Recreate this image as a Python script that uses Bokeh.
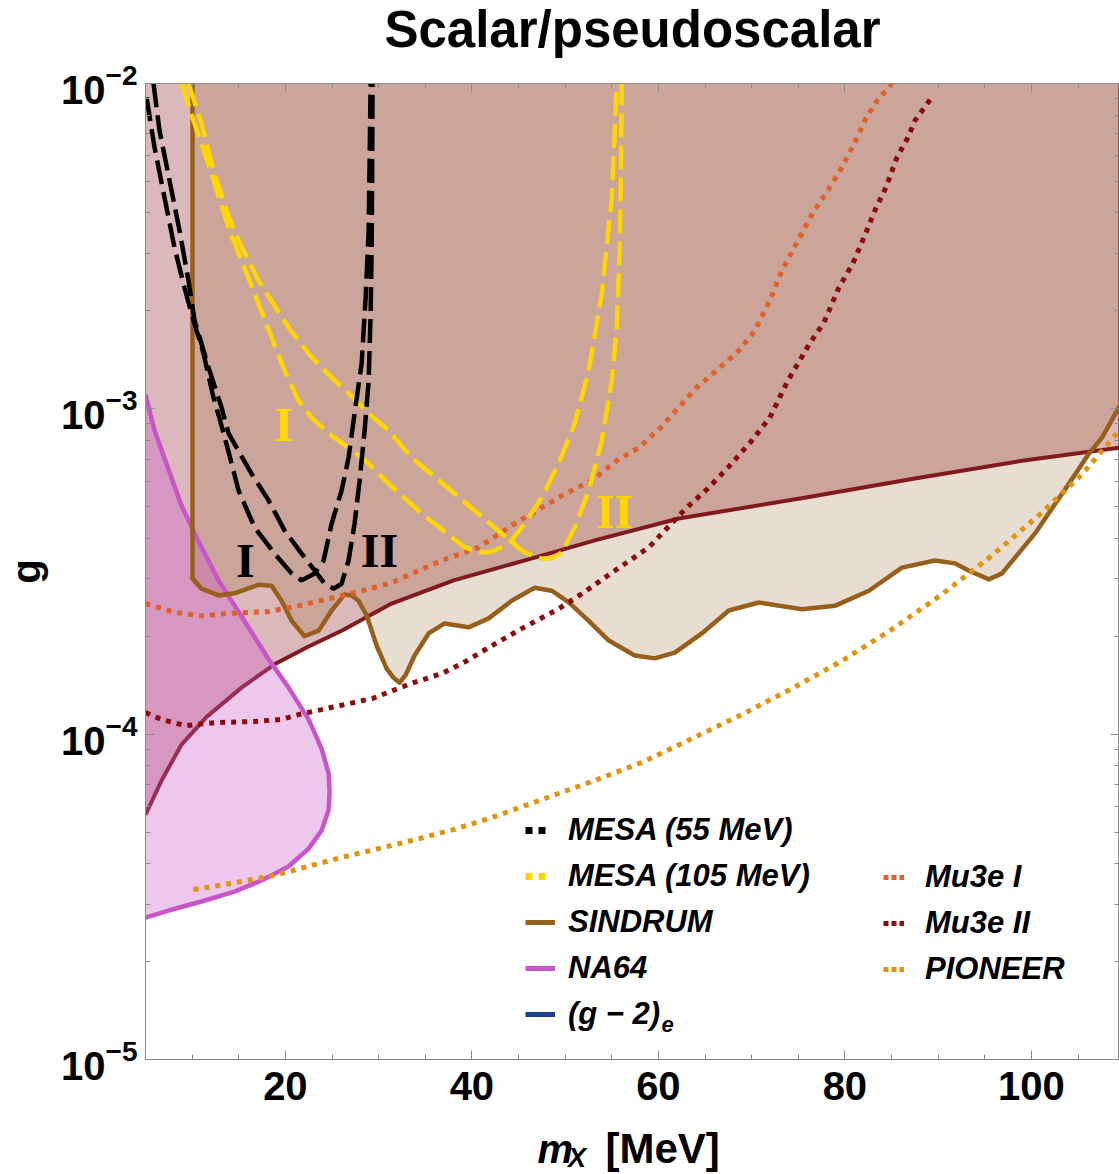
from bokeh.plotting import figure
from bokeh.layouts import column
from bokeh.models import (Range1d, LogAxis, LinearAxis, SingleIntervalTicker,
                          LogTicker, Label, Legend, LegendItem, CustomJSTickFormatter)
from bokeh.embed import file_html
from bokeh.resources import INLINE

NAN = float("nan")

# ---------------- data (m_X in MeV, coupling g) ----------------
X_MIN, X_MAX = 5.0, 109.45
G_MIN, G_MAX = 1e-5, 1e-2

g2_x = [5.0, 6.72, 8.86, 11.55, 15.30, 18.84, 22.49, 26.03, 31.39, 38.05, 46.74,
        53.18, 62.19, 75.82, 87.51, 99.21, 109.5]
g2_g = [5.66e-5, 7.20e-5, 9.29e-5, 1.13e-4, 1.39e-4, 1.64e-4, 1.86e-4, 2.08e-4,
        2.52e-4, 2.97e-4, 3.49e-4, 3.94e-4, 4.60e-4, 5.34e-4, 6.11e-4, 6.94e-4, 7.60e-4]

sind_x = [10.04, 10.04, 11.01, 12.83, 14.55, 17.12, 18.52, 19.59, 20.67, 22.06,
          23.56, 24.96, 26.35, 27.10, 27.85, 28.71, 29.79, 30.86, 31.60, 32.25, 32.90, 33.86,
          35.36, 37.08, 39.66, 41.80, 44.27, 46.74, 48.56, 50.39, 52.53, 54.68,
          57.47, 59.61, 61.76, 64.66, 67.55, 70.77, 75.39, 78.93, 82.58, 86.12,
          89.66, 91.80, 93.30, 95.45, 96.85, 100.39, 104.03, 106.18, 107.58, 109.61]
sind_g = [1e-2, 3.01e-4, 2.80e-4, 2.67e-4, 2.71e-4, 2.88e-4, 2.86e-4, 2.57e-4, 2.23e-4, 2.00e-4,
          2.08e-4, 2.40e-4, 2.69e-4, 2.67e-4, 2.57e-4, 2.32e-4, 1.87e-4, 1.59e-4, 1.49e-4, 1.44e-4,
          1.52e-4, 1.745e-4,
          2.04e-4, 2.19e-4, 2.13e-4, 2.27e-4, 2.57e-4, 2.82e-4, 2.76e-4, 2.54e-4, 2.23e-4, 1.94e-4,
          1.745e-4, 1.71e-4, 1.78e-4, 2.04e-4, 2.40e-4, 2.54e-4, 2.42e-4, 2.48e-4, 2.76e-4, 3.25e-4,
          3.42e-4, 3.35e-4, 3.18e-4, 2.99e-4, 3.12e-4, 4.14e-4, 5.89e-4, 7.29e-4, 8.16e-4, 1.038e-3]

na64_x = [5.0, 5.97, 7.47, 8.86, 10.69, 12.83, 15.30, 18.20, 20.34, 22.49, 23.88,
          24.64, 24.74, 24.64, 23.88, 22.49, 20.34, 17.45, 14.55, 11.01, 7.47, 5.0]
na64_g = [1.106e-3, 8.58e-4, 6.51e-4, 5.04e-4, 3.91e-4, 2.97e-4, 2.30e-4, 1.70e-4,
          1.39e-4, 1.11e-4, 9.03e-5, 7.57e-5, 6.66e-5, 5.86e-5, 5.05e-5, 4.45e-5,
          3.92e-5, 3.55e-5, 3.28e-5, 3.06e-5, 2.87e-5, 2.73e-5]

m55_1_x = [5.11, 5.97, 7.04, 8.11, 9.18, 9.94, 11.22, 12.30, 12.94, 14.01, 14.98, 16.70,
           18.84, 20.67, 21.74, 23.13, 24.10, 24.96, 26.03, 26.78, 27.42, 28.18, 28.61,
           28.93, 29.03, 29.14]
m55_1_g = [9.06e-3, 6.36e-3, 4.46e-3, 3.13e-3, 2.36e-3, 1.96e-3, 1.48e-3, 1.08e-3, 9.34e-4,
           7.19e-4, 5.61e-4, 4.32e-4, 3.59e-4, 3.12e-4, 2.97e-4, 3.12e-4, 3.42e-4, 4.44e-4,
           5.61e-4, 7.08e-4, 9.68e-4, 1.38e-3, 2.20e-3, 3.53e-3, 5.68e-3, 1e-2]
m55_2_x = [5.86, 6.50, 7.58, 8.65, 9.61, 10.26, 11.76, 13.15, 13.91, 16.37, 18.20, 19.91,
           21.74, 23.13, 24.21, 25.17, 26.03, 26.78, 27.42, 27.96, 28.50, 28.93, 29.14,
           29.25, 29.30, 29.35]
m55_2_g = [1e-2, 7.17e-3, 5.03e-3, 3.53e-3, 2.48e-3, 1.87e-3, 1.34e-3, 1.01e-3, 8.40e-4,
           6.32e-4, 5.23e-4, 4.23e-4, 3.59e-4, 3.19e-4, 2.90e-4, 2.80e-4, 2.90e-4, 3.42e-4,
           4.44e-4, 6.02e-4, 8.58e-4, 1.22e-3, 1.96e-3, 3.13e-3, 5.03e-3, 1e-2]

m105_1_x = [8.86, 10.15, 12.08, 14.01, 15.30, 16.70, 18.52, 19.91, 21.42, 22.81, 24.64,
            26.78, 28.93, 31.07, 34.61, 39.23, 41.05, 42.12, 43.95, 45.67, 47.49, 49.31,
            51.03, 52.53, 53.93, 55.00, 55.32, 55.54]
m105_1_g = [1e-2, 7.69e-3, 5.29e-3, 3.53e-3, 2.86e-3, 2.26e-3, 1.66e-3, 1.31e-3, 1.06e-3,
            9.40e-4, 8.40e-4, 7.60e-4, 6.79e-4, 5.89e-4, 4.77e-4, 3.75e-4, 3.62e-4, 3.64e-4,
            3.85e-4, 4.44e-4, 5.34e-4, 6.79e-4, 9.02e-4, 1.31e-3, 2.26e-3, 4.46e-3, 7.17e-3, 1e-2]
m105_2_x = [9.61, 11.01, 12.30, 13.69, 14.98, 17.12, 20.34, 22.49, 24.21, 26.78, 28.93,
            31.07, 33.54, 38.15, 43.20, 45.34, 47.17, 48.56, 49.64, 51.03, 52.53, 53.93,
            55.00, 55.54, 55.86, 55.97, 56.07]
m105_2_g = [1e-2, 7.53e-3, 5.40e-3, 4.07e-3, 3.29e-3, 2.48e-3, 1.78e-3, 1.48e-3, 1.31e-3,
            1.115e-3, 9.68e-4, 8.58e-4, 7.08e-4, 5.49e-4, 4.14e-4, 3.67e-4, 3.47e-4, 3.47e-4,
            3.62e-4, 4.32e-4, 5.61e-4, 7.99e-4, 1.22e-3, 1.78e-3, 3.13e-3, 5.03e-3, 1e-2]

mu3e1_x = [5.0, 8.11, 11.01, 13.91, 18.20, 21.42, 24.64, 27.42, 31.39, 36.76, 40.73, 44.59,
           49.64, 52.85, 55.54, 57.90, 60.26, 62.19, 64.12, 66.48, 68.63, 70.34, 71.95,
           73.24, 74.85, 76.57, 78.18, 79.68, 81.07, 82.25, 83.65, 84.73, 85.0]
mu3e1_g = [2.52e-4, 2.37e-4, 2.31e-4, 2.35e-4, 2.38e-4, 2.48e-4, 2.61e-4, 2.72e-4, 2.92e-4,
           3.42e-4, 3.75e-4, 4.44e-4, 5.41e-4, 6.02e-4, 6.94e-4, 7.60e-4, 8.76e-4, 1.01e-3,
           1.163e-3, 1.33e-3, 1.51e-3, 1.74e-3, 2.15e-3, 2.66e-3, 3.24e-3, 4.01e-3, 4.69e-3,
           5.52e-3, 6.59e-3, 7.80e-3, 9.06e-3, 9.65e-3, 1e-2]
mu3e2_x = [5.0, 6.72, 9.29, 12.40, 16.70, 19.59, 21.42, 23.88, 27.85, 29.36, 33.43, 36.76,
           39.44, 42.12, 45.34, 49.31, 51.78, 55.32, 58.97, 62.94, 65.30, 67.66, 70.02,
           71.95, 73.88, 76.24, 77.75, 79.36, 80.86, 82.04, 83.22, 84.40, 85.58, 86.76,
           87.51, 89.23]
mu3e2_g = [1.165e-4, 1.11e-4, 1.062e-4, 1.085e-4, 1.094e-4, 1.11e-4, 1.149e-4, 1.19e-4,
           1.26e-4, 1.288e-4, 1.43e-4, 1.535e-4, 1.68e-4, 1.87e-4, 2.11e-4, 2.43e-4, 2.70e-4,
           3.18e-4, 3.75e-4, 4.94e-4, 5.69e-4, 6.69e-4, 7.99e-4, 9.40e-4, 1.22e-3, 1.59e-3,
           1.84e-3, 2.36e-3, 2.80e-3, 3.36e-3, 4.07e-3, 4.79e-3, 5.92e-3, 6.82e-3, 7.69e-3, 8.99e-3]
pio_x = [10.15, 13.48, 18.84, 26.03, 32.68, 38.05, 42.12, 47.49, 52.85, 58.22, 63.58,
         68.95, 74.31, 79.68, 85.04, 90.41, 95.77, 101.13, 105.42, 109.61]
pio_g = [3.33e-5, 3.45e-5, 3.68e-5, 4.18e-5, 4.64e-5, 5.09e-5, 5.54e-5, 6.29e-5, 7.15e-5,
         8.18e-5, 9.69e-5, 1.149e-4, 1.38e-4, 1.68e-4, 2.10e-4, 2.69e-4, 3.54e-4, 4.80e-4,
         6.28e-4, 8.70e-4]

# ---------------- styling ----------------
FONT = "Liberation Sans"
SERIF = "Liberation Serif"
C_G2 = "#801a1c"
C_SIND = "#96601c"
C_NA64 = "#c855c8"
C_MU1 = "#e0602a"
C_MU2 = "#8b0a0a"
C_PIO = "#e0940c"
C_M105 = "#ffd700"
C_G2LEG = "#1c3f94"
AX_GREY = "#8a8a8a"

W = 1119
H_TOP, H_MAIN, H_BOT = 60, 1061, 53
FL, FW, FH = 145, 974, 976
FT_MAIN = 83 - H_TOP

p = figure(width=W, height=H_MAIN, x_range=Range1d(X_MIN, X_MAX),
           y_range=Range1d(G_MIN, G_MAX), y_axis_type="log", title=None,
           output_backend="svg", toolbar_location=None,
           min_border_left=FL, min_border_right=0, min_border_top=FT_MAIN,
           min_border_bottom=H_MAIN - FT_MAIN - FH)
p.grid.visible = False
p.outline_line_color = AX_GREY
p.background_fill_color = "white"
p.border_fill_color = "white"

p.varea(x=g2_x, y1=g2_g, y2=[G_MAX] * len(g2_x), fill_color=(136, 20, 30), fill_alpha=0.30)
p.varea(x=sind_x, y1=sind_g, y2=[G_MAX] * len(sind_x), fill_color=(140, 85, 25), fill_alpha=0.20)
p.line(g2_x, g2_g, line_color=C_G2, line_width=4)
p.patch(na64_x, na64_g, fill_color=(204, 85, 204), fill_alpha=0.33, line_color=None)
p.line(na64_x, na64_g, line_color=C_NA64, line_width=4.5)
p.line(sind_x, sind_g, line_color=C_SIND, line_width=4.5, line_join="round")

DOT = "5 6"
p.line(mu3e1_x, mu3e1_g, line_color=C_MU1, line_width=5, line_dash=DOT)
p.line(mu3e2_x, mu3e2_g, line_color=C_MU2, line_width=5, line_dash=DOT)
p.line(pio_x, pio_g, line_color=C_PIO, line_width=5, line_dash=DOT)
DASH = "24 8"
p.line(m105_1_x, m105_1_g, line_color=C_M105, line_width=4.5, line_dash=DASH)
p.line(m105_2_x, m105_2_g, line_color=C_M105, line_width=4.5, line_dash=DASH)
p.line(m55_1_x, m55_1_g, line_color="black", line_width=4.5, line_dash=DASH)
p.line(m55_2_x, m55_2_g, line_color="black", line_width=4.5, line_dash=DASH)

for tx, ty, txt, col in [(15.71, 3.42e-4, "I", "black"), (30.09, 3.67e-4, "II", "black"),
                         (19.81, 8.95e-4, "I", C_M105), (55.28, 4.83e-4, "II", C_M105)]:
    p.add_layout(Label(x=tx, y=ty, text=txt, text_color=col, text_font=SERIF,
                       text_font_style="bold", text_font_size="48px",
                       text_align="center", text_baseline="middle"))

xa, ya = p.xaxis[0], p.yaxis[0]
xa.ticker = SingleIntervalTicker(interval=20, num_minor_ticks=4)
ya.ticker.num_minor_ticks = 10
for ax in (xa, ya):
    ax.major_label_text_font = FONT
    ax.major_label_text_font_size = "40px"
    ax.major_label_text_font_style = "bold"
    ax.major_label_text_color = "black"
    ax.axis_line_color = AX_GREY
    ax.major_tick_line_color = AX_GREY
    ax.minor_tick_line_color = AX_GREY
    ax.major_tick_in, ax.major_tick_out = 9, 0
    ax.minor_tick_in, ax.minor_tick_out = 5, 0
xa.major_label_standoff = 12
ya.major_label_standoff = 8
ya.axis_label = "g"
ya.axis_label_text_font = FONT
ya.axis_label_text_font_size = "40px"
ya.axis_label_text_font_style = "bold"
ya.axis_label_text_color = "black"
ya.axis_label_standoff = 10

r_ax = LogAxis(ticker=LogTicker(num_minor_ticks=10), formatter=CustomJSTickFormatter(code="return ''"),
               major_label_standoff=0, major_label_text_font_size="2px", axis_line_color=AX_GREY,
               major_tick_line_color=AX_GREY, minor_tick_line_color=AX_GREY,
               major_tick_in=9, major_tick_out=0, minor_tick_in=5, minor_tick_out=0)
t_ax = LinearAxis(ticker=SingleIntervalTicker(interval=20, num_minor_ticks=4),
                  formatter=CustomJSTickFormatter(code="return ''"), major_label_standoff=0,
                  major_label_text_font_size="2px",
                  axis_line_color=AX_GREY, major_tick_line_color=AX_GREY,
                  minor_tick_line_color=AX_GREY, major_tick_in=9, major_tick_out=0,
                  minor_tick_in=5, minor_tick_out=0)
p.add_layout(r_ax, "right")
p.add_layout(t_ax, "above")

def sample(**kw):
    return p.line(x=[NAN], y=[NAN], **kw)

LEG_DASH = "7 6 7 60"
LEG_DOT = "5 3"
left_items = [
    LegendItem(label="MESA (55 MeV)", renderers=[sample(line_color="black", line_width=7, line_dash=LEG_DASH)]),
    LegendItem(label="MESA (105 MeV)", renderers=[sample(line_color=C_M105, line_width=7, line_dash=LEG_DASH)]),
    LegendItem(label="SINDRUM", renderers=[sample(line_color=C_SIND, line_width=5)]),
    LegendItem(label="NA64", renderers=[sample(line_color=C_NA64, line_width=5)]),
    LegendItem(label="(g − 2)", renderers=[sample(line_color=C_G2LEG, line_width=5)]),
]
right_items = [
    LegendItem(label="Mu3e I", renderers=[sample(line_color=C_MU1, line_width=5, line_dash=LEG_DOT)]),
    LegendItem(label="Mu3e II", renderers=[sample(line_color=C_MU2, line_width=5, line_dash=LEG_DOT)]),
    LegendItem(label="PIONEER", renderers=[sample(line_color=C_PIO, line_width=5, line_dash=LEG_DOT)]),
]
common = dict(orientation="vertical", glyph_height=40, label_height=40, spacing=6,
              padding=0, margin=0, label_text_font=FONT, label_text_font_style="bold italic",
              label_text_font_size="31px", label_text_color="black",
              border_line_alpha=0, background_fill_alpha=0)
p.add_layout(Legend(items=left_items, location=(380, 25), glyph_width=30,
                    label_standoff=13, **common))
p.add_layout(Legend(items=right_items, location=(738, 70), glyph_width=21,
                    label_standoff=21, **common))
p.add_layout(Label(x=516, y=35, x_units="screen", y_units="screen", text="e",
                   text_font=FONT, text_font_style="bold italic", text_font_size="22px",
                   text_color="black", text_baseline="middle"))


def strip(height):
    f = figure(width=W, height=height, x_range=p.x_range, y_range=Range1d(0, height),
               output_backend="svg", toolbar_location=None, title=None,
               min_border_left=FL, min_border_right=0, min_border_top=0, min_border_bottom=0,
               x_axis_type=None, y_axis_type=None)
    f.outline_line_color = None
    f.grid.visible = False
    f.background_fill_color = "white"
    f.border_fill_color = "white"
    return f

# title strip (shares the x scale; title centred on the plot frame)
top = strip(H_TOP)
top.add_layout(Label(x=(X_MIN + X_MAX) / 2, y=H_TOP - 29, y_units="screen",
                     text="Scalar/pseudoscalar", text_font=FONT, text_font_style="bold",
                     text_font_size="51px", text_color="black",
                     text_align="center", text_baseline="middle"))

# x-axis label strip
bot = strip(H_BOT)
bot.add_layout(Label(x=47.04, y=26, y_units="screen", text="m", text_font=FONT,
                     text_font_style="bold italic", text_font_size="40px",
                     text_color="black", text_baseline="middle"))
bot.add_layout(Label(x=50.3, y=17, y_units="screen", text="X", text_font=FONT,
                     text_font_style="bold italic", text_font_size="27px",
                     text_color="black", text_baseline="middle"))
bot.add_layout(Label(x=54.33, y=26, y_units="screen", text="[MeV]", text_font=FONT,
                     text_font_style="bold", text_font_size="42px",
                     text_color="black", text_baseline="middle"))

layout = column(top, p, bot, spacing=0)
open("out.html", "w").write(file_html(layout, INLINE))
